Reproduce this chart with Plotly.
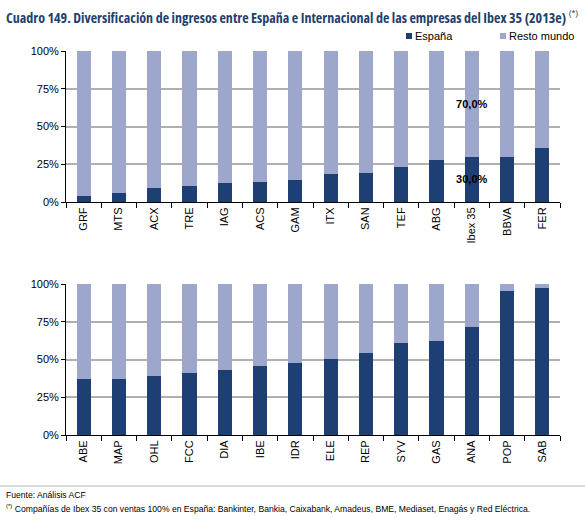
import plotly.graph_objects as go
from plotly.subplots import make_subplots

# ---- data ----
top_cats = ["GRF", "MTS", "ACX", "TRE", "IAG", "ACS", "GAM", "ITX", "SAN", "TEF", "ABG", "Ibex 35", "BBVA", "FER"]
top_espana = [4.3, 6.1, 9.4, 10.9, 12.7, 13.4, 14.9, 18.4, 19.3, 23.2, 27.6, 30.0, 29.8, 35.7]
top_resto = [95.7, 93.9, 90.6, 89.1, 87.3, 86.6, 85.1, 81.6, 80.7, 76.8, 72.4, 70.0, 70.2, 64.3]

bot_cats = ["ABE", "MAP", "OHL", "FCC", "DIA", "IBE", "IDR", "ELE", "REP", "SYV", "GAS", "ANA", "POP", "SAB"]
bot_espana = [37.3, 37.3, 38.9, 41.1, 42.8, 45.7, 47.7, 50.3, 54.5, 60.9, 62.3, 71.7, 95.4, 97.4]
bot_resto = [62.7, 62.7, 61.1, 58.9, 57.2, 54.3, 52.3, 49.7, 45.5, 39.1, 37.7, 28.3, 4.6, 2.6]

series_names = ["España", "Resto mundo"]
y_ticks = [0, 25, 50, 75, 100]
y_tick_labels = ["0%", "25%", "50%", "75%", "100%"]
labelled_cat = "Ibex 35"

DARK = "#1D3F73"
LIGHT = "#9DA6CB"
FONT_C = "Open Sans, Liberation Sans, Arial, sans-serif"
FONT_REG = "Liberation Sans, Arial, sans-serif"
COND = "<span style='font-stretch:75%'>{}</span>"

L, R, T, B = 66, 25, 51, 96
W, H = 585, 531
PW, PH = W - L - R, H - T - B

def px_x(x):
    return (x - L) / PW

def px_y(y):
    return (H - B - y) / PH

def fmt(v):
    return f"{v:.1f}%".replace(".", ",")

top_esp_text = [fmt(v) if c == labelled_cat else "" for c, v in zip(top_cats, top_espana)]
top_resto_text = [fmt(v) if c == labelled_cat else "" for c, v in zip(top_cats, top_resto)]

fig = make_subplots(rows=2, cols=1, vertical_spacing=(284 - 202) / PH)

lbl_font = dict(family=FONT_REG, size=11, color="black", weight="bold")
fig.add_trace(go.Bar(x=top_cats, y=top_espana, name=series_names[0], marker_color=DARK,
                     text=top_esp_text, textposition="inside", insidetextanchor="middle",
                     textangle=0, constraintext="none", textfont=lbl_font), row=1, col=1)
fig.add_trace(go.Bar(x=top_cats, y=top_resto, name=series_names[1], marker_color=LIGHT,
                     text=top_resto_text, textposition="inside", insidetextanchor="middle",
                     textangle=0, constraintext="none", textfont=lbl_font), row=1, col=1)
fig.add_trace(go.Bar(x=bot_cats, y=bot_espana, name=series_names[0], marker_color=DARK), row=2, col=1)
fig.add_trace(go.Bar(x=bot_cats, y=bot_resto, name=series_names[1], marker_color=LIGHT), row=2, col=1)

fig.update_traces(marker_line_width=0, showlegend=False)

for r in (1, 2):
    fig.update_xaxes(row=r, col=1, type="category", tickson="boundaries", ticks="outside",
                     ticklen=5, tickcolor="black", showline=True, linecolor="black",
                     linewidth=1, tickangle=-90, showgrid=False,
                     tickfont=dict(family=FONT_REG, size=11, color="black"))
    fig.update_yaxes(row=r, col=1, range=[0, 100], tickvals=y_ticks, ticktext=y_tick_labels,
                     ticks="outside", ticklen=4, tickcolor="black", showline=True,
                     linecolor="black", linewidth=1, showgrid=True, gridcolor="#B0B0B0",
                     gridwidth=1.5, zeroline=False,
                     tickfont=dict(family=FONT_REG, size=11, color="black"))

fig.update_layout(
    width=W, height=H,
    margin=dict(l=L, r=R, t=T, b=B),
    barmode="stack", bargap=0.6,
    plot_bgcolor="white", paper_bgcolor="white",
    showlegend=False,
    font=dict(family=FONT_REG, color="black"),
)

# manual legend (squares + labels)
legend_items = [(406, 413, DARK, series_names[0]), (500, 507, LIGHT, series_names[1])]
for sq_x, tx_x, col, name in legend_items:
    fig.add_shape(type="rect", xref="paper", yref="paper",
                  x0=px_x(sq_x), x1=px_x(sq_x + 6), y0=px_y(39), y1=px_y(33),
                  fillcolor=col, line=dict(width=0))
    fig.add_annotation(xref="paper", yref="paper", x=px_x(tx_x), y=px_y(36), xanchor="left",
                       yanchor="middle", showarrow=False, text=name,
                       font=dict(family=FONT_REG, size=11, color="black"))

fig.add_annotation(xref="paper", yref="paper", x=px_x(4), y=px_y(17), xanchor="left",
                   yanchor="middle", showarrow=False,
                   text=COND.format("<b>Cuadro 149. Diversificación de ingresos entre España e Internacional de las empresas del Ibex 35 (2013e)</b> <sup>(*)</sup>"),
                   font=dict(family=FONT_C, size=14, color="#1F3F6E"))
fig.add_annotation(xref="paper", yref="paper", x=px_x(4), y=px_y(495), xanchor="left",
                   yanchor="middle", showarrow=False, text="Fuente: Análisis ACF",
                   font=dict(family=FONT_REG, size=8.6, color="black"))
fig.add_annotation(xref="paper", yref="paper", x=px_x(4), y=px_y(508), xanchor="left",
                   yanchor="middle", showarrow=False,
                   text="<sup>(*)</sup> Compañías de Ibex 35 con ventas 100% en España: Bankinter, Bankia, Caixabank, Amadeus, BME, Mediaset, Enagás y Red Eléctrica.",
                   font=dict(family=FONT_REG, size=8.6, color="black"))

# separator line above footer
fig.add_shape(type="line", xref="paper", yref="paper", x0=px_x(0), x1=px_x(W),
              y0=px_y(486), y1=px_y(486), line=dict(color="#D9D9D9", width=2))

fig.write_html("out.html", config={"displayModeBar": False},
               post_script="document.body.style.margin='0px';")
